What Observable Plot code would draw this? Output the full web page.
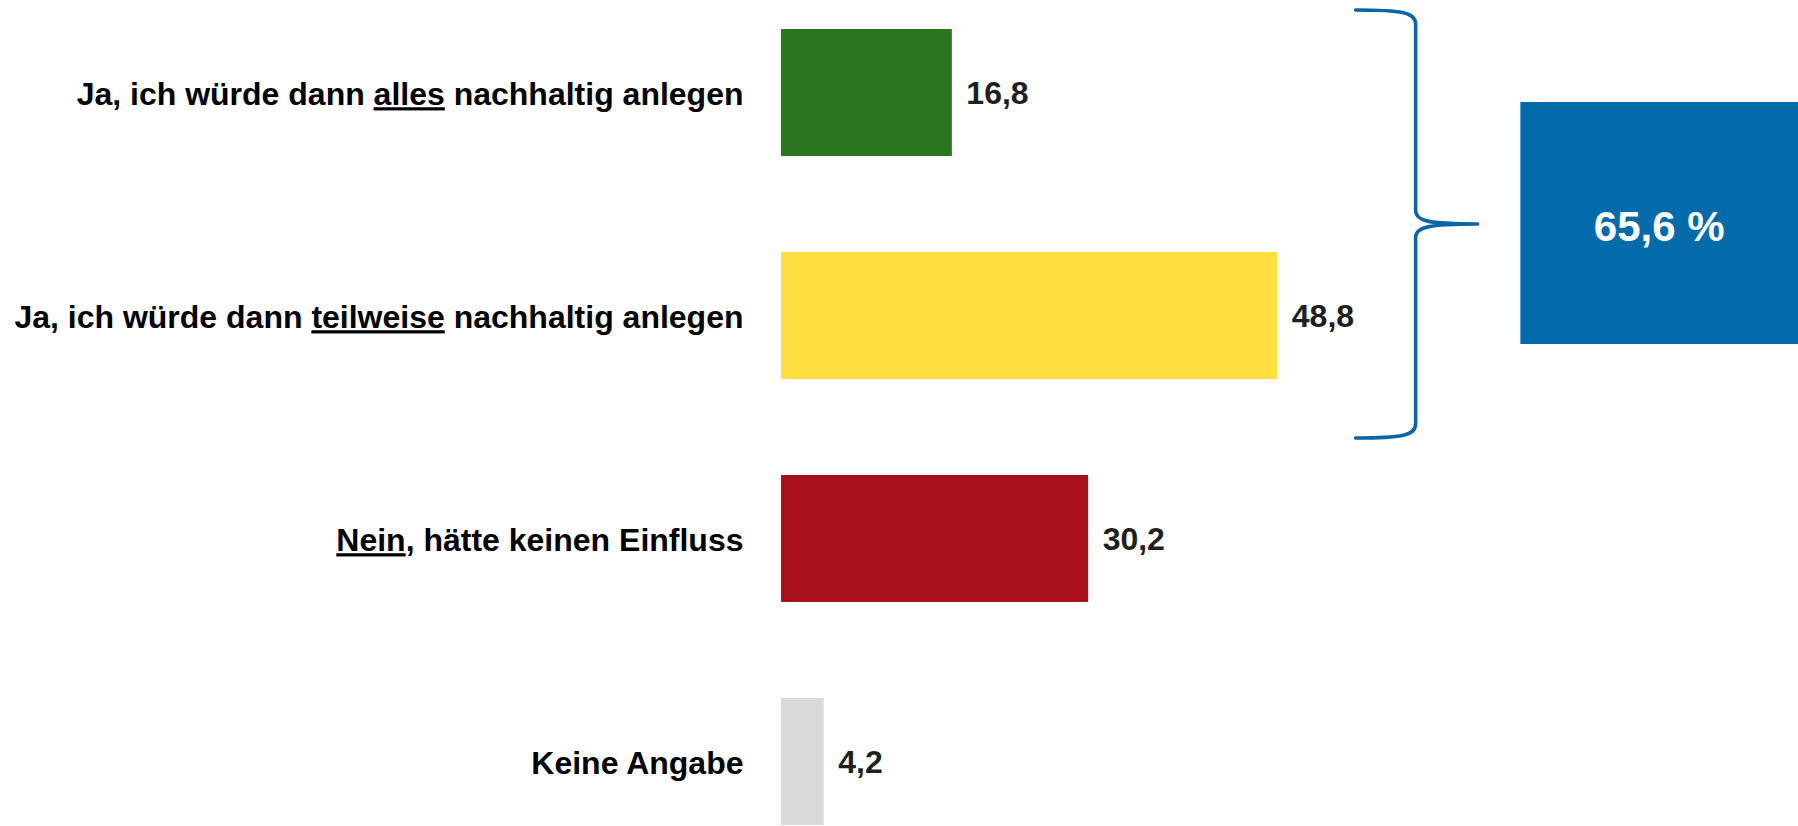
<!DOCTYPE html>
<html>
<head>
<meta charset="utf-8">
<script src="https://cdn.jsdelivr.net/npm/d3@7"></script>
<script src="https://cdn.jsdelivr.net/npm/@observablehq/plot@0.6"></script>
<style>
  html, body { margin: 0; padding: 0; background: #fff; overflow: hidden; }
  #chart svg { display: block; }
  #chart svg text { font-family: "Liberation Sans", Arial, sans-serif; font-weight: 700; }
</style>
</head>
<body>
<div id="chart"></div>
<script>
// ---- data ----
const categories = [
  "Ja, ich würde dann alles nachhaltig anlegen",
  "Ja, ich würde dann teilweise nachhaltig anlegen",
  "Nein, hätte keinen Einfluss",
  "Keine Angabe"
];
const values = [16.8, 48.8, 30.2, 4.2];
const underlinedWords = ["alles", "teilweise", "Nein", null];
const colors = ["#2C7520", "#FFDF40", "#A8111A", "#D9D9D9"];
const bracketedCount = 2; // first two answers are summed in the box

const fmt = v => d3.format(".1f")(v).replace(".", ",");
const rows = categories.map((c, i) => ({category: c, value: values[i]}));
const total = d3.sum(values.slice(0, bracketedCount));

const plot = Plot.plot({
  width: 1798,
  height: 826,
  marginLeft: 781,
  marginRight: 0,
  marginTop: 27.5,
  marginBottom: 0,
  x: {domain: [0, 100], axis: null},
  y: {domain: categories, paddingInner: 0.43, paddingOuter: 0, label: null},
  color: {domain: categories, range: colors},
  style: {fontFamily: "'Liberation Sans', Arial, sans-serif", background: "white"},
  marks: [
    Plot.barX(rows, {x: "value", y: "category", fill: "category"}),
    Plot.text(rows, {
      x: "value", y: "category", text: d => fmt(d.value),
      textAnchor: "start", dx: 14, dy: 1, fontSize: 32, fontWeight: "bold", fill: "#1f1f1f"
    }),
    Plot.axisY({tickSize: 0, tickPadding: 38, fontSize: 32, fontWeight: "bold", color: "#000", dy: 2, label: null})
  ]
});

// underline the key word of each answer label
const NS = "http://www.w3.org/2000/svg";
plot.querySelectorAll('g[aria-label="y-axis tick label"] text').forEach(t => {
  const label = t.textContent;
  const i = categories.indexOf(label);
  const word = i >= 0 ? underlinedWords[i] : null;
  if (!word) return;
  const k = label.indexOf(word);
  const parts = [[label.slice(0, k), false], [word, true], [label.slice(k + word.length), false]];
  t.textContent = "";
  for (const [s, u] of parts) {
    if (!s) continue;
    const ts = document.createElementNS(NS, "tspan");
    ts.textContent = s;
    if (u) ts.setAttribute("text-decoration", "underline"), ts.style.textDecoration = "underline";
    t.appendChild(ts);
  }
});

// annotation: brace and total box, positioned with the plot's x scale
const xs = plot.scale("x");
const px = v => xs.apply(v);
const svg = d3.select(plot);
const g = svg.append("g").attr("aria-label", "total annotation");

const xArm = px(56.5), xStem = px(62.4), xTip = px(68.5);
const yTop = 10, yMid = 224, yBot = 438;
const brace = [
  `M${xArm},${yTop}`,
  `C${xArm + 45},${yTop} ${xStem},${yTop + 2} ${xStem},${yTop + 14}`,
  `L${xStem},${yMid - 14}`,
  `C${xStem},${yMid - 3} ${xStem + 12},${yMid} ${xTip},${yMid}`,
  `M${xTip},${yMid}`,
  `C${xStem + 12},${yMid} ${xStem},${yMid + 3} ${xStem},${yMid + 14}`,
  `L${xStem},${yBot - 14}`,
  `C${xStem},${yBot - 2} ${xArm + 45},${yBot} ${xArm},${yBot}`
].join(" ");
g.append("path")
  .attr("d", brace)
  .attr("fill", "none")
  .attr("stroke", "#0B65A6")
  .attr("stroke-width", 3.6)
  .attr("stroke-linecap", "round")
  .attr("stroke-linejoin", "round");

const bx1 = px(72.7), bx2 = px(100);
g.append("rect")
  .attr("x", bx1).attr("y", 102)
  .attr("width", bx2 - bx1).attr("height", 242)
  .attr("fill", "#046BAA");
g.append("text")
  .attr("x", (bx1 + bx2) / 2).attr("y", 226)
  .attr("dy", "0.35em")
  .attr("text-anchor", "middle")
  .attr("fill", "#fff")
  .attr("font-size", 42)
  .attr("font-weight", 700)
  .text(`${fmt(total)} %`);

document.getElementById("chart").appendChild(plot);
</script>
</body>
</html>
